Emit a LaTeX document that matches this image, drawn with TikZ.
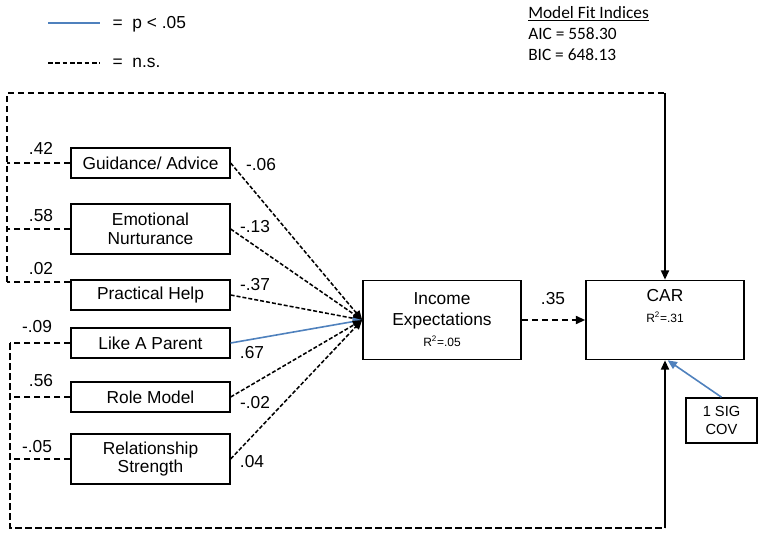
\documentclass[tikz,border=0pt]{standalone}
\usepackage{fontspec}
\setmainfont{Liberation Sans}
\newfontfamily\fitfont{Carlito}
\usetikzlibrary{arrows.meta}
\definecolor{sigblue}{RGB}{79,129,189}

\begin{document}
\begin{tikzpicture}[x=0.75pt,y=-0.75pt,
	box/.style={shape=rectangle,draw=black,line width=1.2pt,align=center,inner sep=1pt,
		minimum width=119pt,minimum height=22.5pt,font=\fontsize{13}{14}\selectfont},
	tallbox/.style={box,minimum height=37.5pt},
	bigbox/.style={box,minimum width=118.5pt,minimum height=59.25pt,font=\fontsize{13}{15.75}\selectfont},
	lab/.style={font=\fontsize{13}{15}\selectfont,inner sep=0pt},
	small/.style={font=\fontsize{11}{13.5}\selectfont},
	nsline/.style={line width=1.4pt,dash pattern=on 5pt off 2.5pt},
	nsarrow/.style={line width=1.15pt,dash pattern=on 3pt off 1.5pt,-{Triangle[length=7pt,width=6pt]}},
	sigarrow/.style={line width=1.2pt,draw=sigblue,-{Triangle[length=7pt,width=6pt]}},
	loopend/.style={line width=1.4pt,-{Triangle[length=7pt,width=6pt]}}]
	\useasboundingbox (0,0) rectangle (759,538);

	% legend and fit indices
	\coordinate (sigA) at (48,23);
	\coordinate (sigB) at (100,23);
	\coordinate (nsA) at (48,63);
	\coordinate (nsB) at (100,63);
	\draw[line width=1.2pt,sigblue] (sigA) -- (sigB);
	\draw[line width=1pt,dash pattern=on 3.5pt off 2pt] (nsA) -- (nsB);
	\node[anchor=west,font=\fontsize{13}{15}\selectfont] (legsig) at (108,24) {= \ p < .05};
	\node[anchor=west,font=\fontsize{13}{15}\selectfont] (legns) at (108,63) {= \ n.s.};
	\node[anchor=north west,align=left,inner sep=0pt,font=\fitfont\fontsize{13}{15.75}\selectfont] (fit) at (528,6)
		{\underline{Model Fit Indices}\\AIC = 558.30\\BIC = 648.13};

	% predictors
	\node[box] (guid) at (150.5,163) {Guidance/ Advice};
	\node[tallbox] (emot) at (150.5,229) {Emotional\\Nurturance};
	\node[box] (prac) at (150.5,295) {Practical Help};
	\node[box] (like) at (150.5,343) {Like A Parent};
	\node[box] (role) at (150.5,397) {Role Model};
	\node[tallbox] (rela) at (150.5,459) {Relationship\\Strength};

	% mediator, outcome, covariate
	\node[bigbox] (inc) at (442,320) {Income\\Expectations\\{\small R\textsuperscript{2}=.05}};
	\node[bigbox] (car) at (665,320) {CAR\\{\small R\textsuperscript{2}=.31}\\\strut};
	\node[box,small,minimum width=53.25pt,minimum height=33.75pt] (cov) at (721.5,420.5) {1 SIG\\COV};

	\draw[nsarrow] (guid.east) -- (inc.west);
	\draw[nsarrow] (emot.east) -- (inc.west);
	\draw[nsarrow] (prac.east) -- (inc.west);
	\draw[sigarrow] (like.east) -- (inc.west);
	\draw[nsarrow] (role.east) -- (inc.west);
	\draw[nsarrow] (rela.east) -- (inc.west);
	\draw[nsline,-{Triangle[length=7pt,width=6pt]}] (inc.east) -- (car.west);
	\draw[sigarrow] (cov.north) -- ([xshift=2pt]car.south);

	% paths straight to CAR (top group)
	\coordinate (tl) at (7,93);
	\coordinate (tr) at (car.north |- tl);
	\coordinate (pracin) at ([yshift=-2.25pt]prac.north west);
	\draw[nsline] (guid.west) -- (tl |- guid.west);
	\draw[nsline] (emot.west) -- (tl |- emot.west);
	\draw[nsline] (pracin) -- (tl |- pracin);
	\draw[nsline] (tl |- pracin) -- (tl) -- (tr);
	\draw[loopend] (tr) -- (car.north);

	% paths straight to CAR (bottom group)
	\coordinate (bl) at (10,528);
	\coordinate (br) at (car.south |- bl);
	\draw[nsline] (like.west) -- (bl |- like.west);
	\draw[nsline] (role.west) -- (bl |- role.west);
	\draw[nsline] (rela.west) -- (bl |- rela.west);
	\draw[nsline] (bl |- like.west) -- (bl) -- (br);
	\draw[loopend] (br) -- (car.south);

	% coefficients
	\node[lab] (cguid) at (41,148) {.42};
	\node[lab] (cemot) at (41,216) {.58};
	\node[lab] (cprac) at (41,269) {.02};
	\node[lab] (clike) at (37,327) {-.09};
	\node[lab] (crole) at (41,381) {.56};
	\node[lab] (crela) at (37,447) {-.05};
	\node[lab] (bguid) at (261,165) {-.06};
	\node[lab] (bemot) at (255,227) {-.13};
	\node[lab] (bprac) at (255,285) {-.37};
	\node[lab] (blike) at (252,353) {.67};
	\node[lab] (brole) at (255,403) {-.02};
	\node[lab] (brela) at (252,462) {.04};
	\node[lab] (binc) at (553,299) {.35};
\end{tikzpicture}
\end{document}
